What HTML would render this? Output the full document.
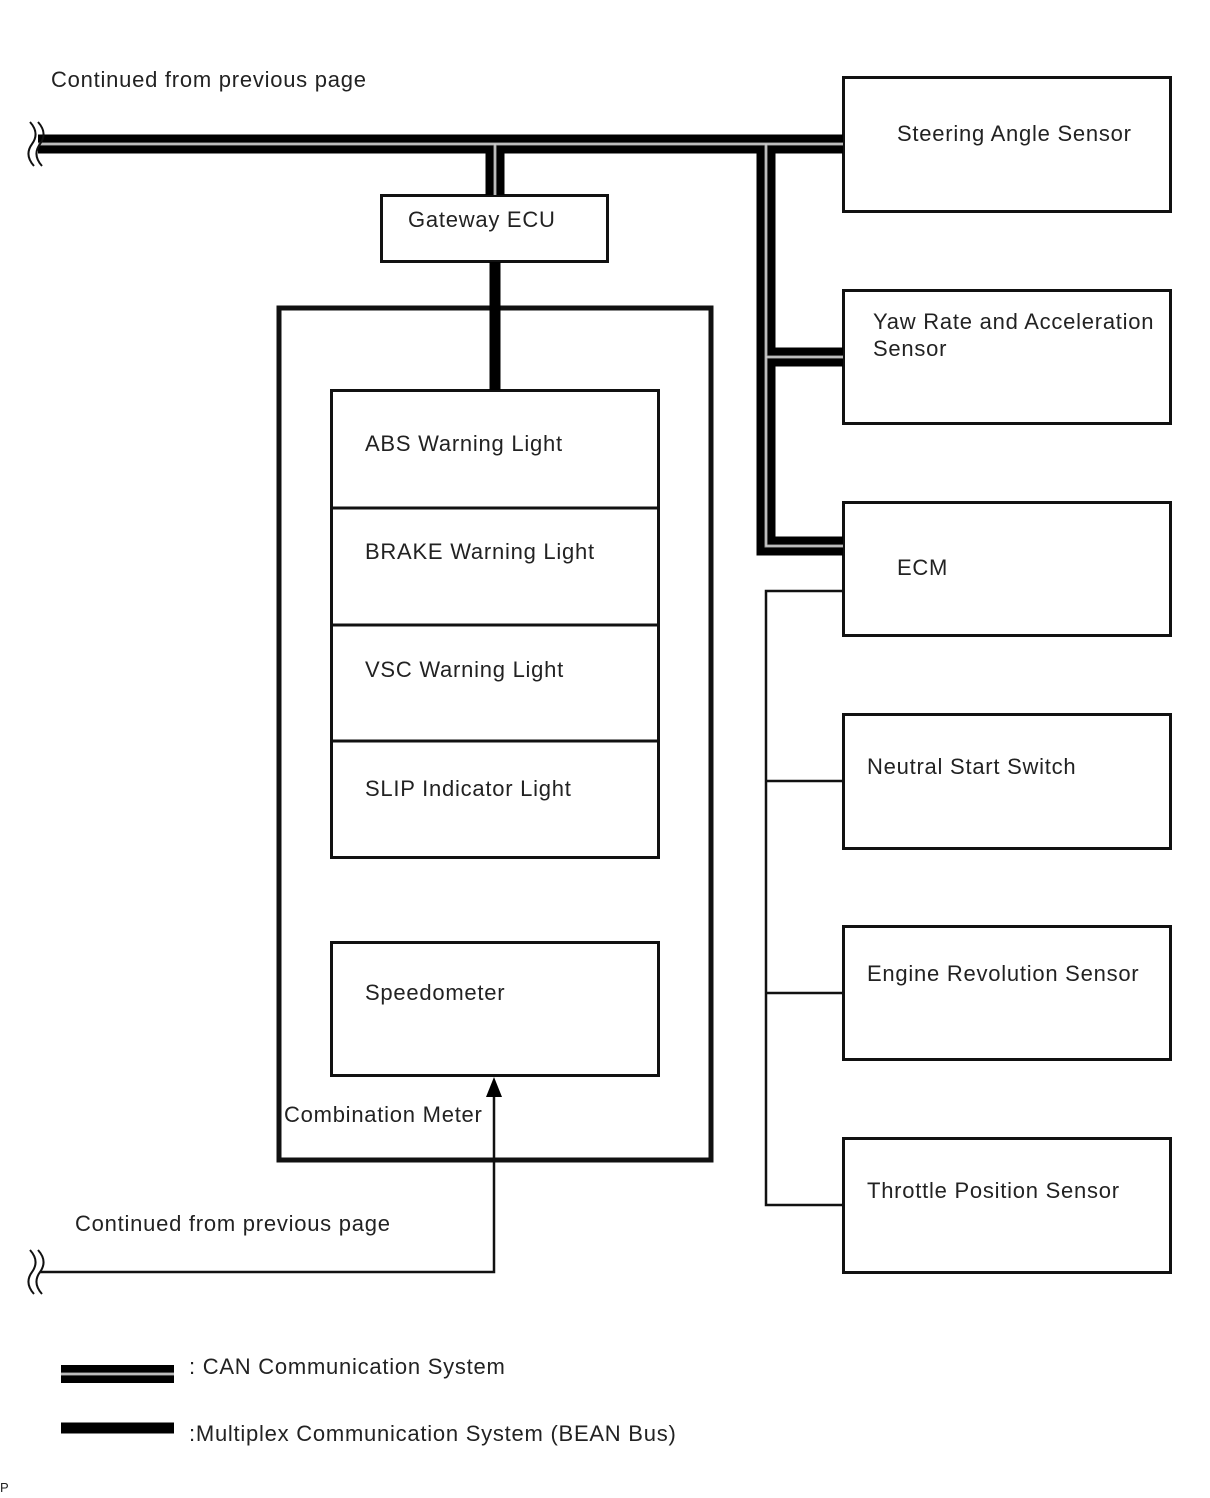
<!DOCTYPE html>
<html><head><meta charset="utf-8"><style>
html,body{margin:0;padding:0;background:#fff;}
svg{display:block;}
text{font-family:"Liberation Sans",Arial,sans-serif;font-size:22px;letter-spacing:0.75px;fill:#222;}
</style></head><body>
<svg width="1210" height="1498" viewBox="0 0 1210 1498" xmlns="http://www.w3.org/2000/svg">
<g fill="none" stroke="#111">
<rect x="843.5" y="77.5" width="327" height="134" stroke-width="3"/>
<rect x="843.5" y="290.5" width="327" height="133" stroke-width="3"/>
<rect x="843.5" y="502.5" width="327" height="133" stroke-width="3"/>
<rect x="843.5" y="714.5" width="327" height="134" stroke-width="3"/>
<rect x="843.5" y="926.5" width="327" height="133" stroke-width="3"/>
<rect x="843.5" y="1138.5" width="327" height="134" stroke-width="3"/>
<rect x="381.5" y="195.5" width="226" height="66" stroke-width="3"/>
<rect x="279" y="308" width="432" height="852" stroke-width="5"/>
<rect x="331.5" y="390.5" width="327" height="467" stroke-width="3"/>
<line x1="331" y1="508" x2="659" y2="508" stroke-width="3"/>
<line x1="331" y1="625" x2="659" y2="625" stroke-width="3"/>
<line x1="331" y1="741" x2="659" y2="741" stroke-width="3"/>
<rect x="331.5" y="942.5" width="327" height="133" stroke-width="3"/>
<path d="M843 591 H766 V1205 H843 M766 781 H843 M766 993 H843" stroke-width="2.5"/>
<path d="M40 1272 H494 V1092" stroke-width="2.5"/>
<line x1="495" y1="262" x2="495" y2="390" stroke-width="11" stroke="#000"/>
<path d="M38 144 H843 M495 144 V195 M766 144 V546 H843 M766 357 H843" stroke="#000" stroke-width="19"/>
<path d="M38 144 H843 M495 144 V195 M766 144 V546 H843 M766 357 H843" stroke="#999" stroke-width="3"/>
<path d="M38 144 H843 M495 144 V195 M766 144 V546 H843 M766 357 H843" stroke="#ddd" stroke-width="1"/>
<path d="M30 122 Q40 133 32 144 Q24 155 34 166" stroke-width="2"/>
<path d="M38 122 Q48 133 40 144 Q32 155 42 166" stroke-width="2"/>
<path d="M30 1250 Q40 1261 32 1272 Q24 1283 34 1294" stroke-width="2"/>
<path d="M38 1250 Q48 1261 40 1272 Q32 1283 42 1294" stroke-width="2"/>
<line x1="61" y1="1374" x2="174" y2="1374" stroke="#000" stroke-width="18"/>
<line x1="61" y1="1374" x2="174" y2="1374" stroke="#999" stroke-width="3"/>
<line x1="61" y1="1374" x2="174" y2="1374" stroke="#ddd" stroke-width="1"/>
<line x1="61" y1="1428" x2="174" y2="1428" stroke="#000" stroke-width="11"/>
</g>
<polygon points="494,1077 486,1097 502,1097" fill="#000"/>
<text x="51" y="87">Continued from previous page</text>
<text x="897" y="141">Steering Angle Sensor</text>
<text x="408" y="227">Gateway  ECU</text>
<text x="873" y="329">Yaw Rate and Acceleration</text>
<text x="873" y="356">Sensor</text>
<text x="365" y="451">ABS Warning Light</text>
<text x="365" y="559">BRAKE Warning Light</text>
<text x="365" y="677">VSC Warning Light</text>
<text x="365" y="796">SLIP Indicator Light</text>
<text x="897" y="575">ECM</text>
<text x="867" y="774">Neutral Start Switch</text>
<text x="867" y="981">Engine Revolution Sensor</text>
<text x="365" y="1000">Speedometer</text>
<text x="284" y="1122">Combination Meter</text>
<text x="867" y="1198">Throttle Position Sensor</text>
<text x="75" y="1231">Continued from previous page</text>
<text x="189" y="1374">: CAN Communication System</text>
<text x="189" y="1441">:Multiplex Communication System (BEAN Bus)</text>
<text x="0" y="1492" style="font-size:13px;letter-spacing:0">P</text>
</svg>
</body></html>
